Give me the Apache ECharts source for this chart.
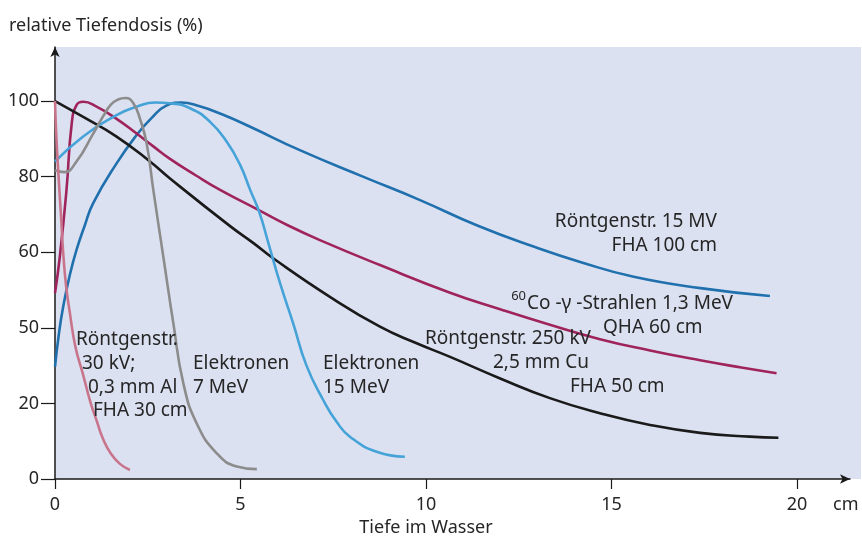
<!DOCTYPE html>
<html>
<head>
<meta charset="utf-8">
<script src="https://cdn.jsdelivr.net/npm/echarts@6/dist/echarts.min.js"></script>
<style>
  html, body { margin: 0; padding: 0; background: #fff; }
  #chart { width: 862px; height: 543px; }
</style>
</head>
<body>
<div id="chart"></div>
<script>
// depth in cm, relative depth dose in %
var xTickValues = [0, 5, 10, 15, 20];
var yTickValues = [0, 20, 40, 60, 80, 100];
var yTickLabels = ['0', '20', '50', '60', '80', '100'];

var pink30kV = [[0,100],[0.03,92],[0.09,81],[0.16,70],[0.22,60],[0.3,51],[0.4,44],[0.55,35],[0.76,27.5],[0.95,20.5],[1.12,15.5],[1.3,10.5],[1.5,6.8],[1.75,4],[2.02,2.4]];
var grey7MeV = [[0,81.7],[0.25,81.2],[0.58,84],[1.03,91.4],[1.3,96],[1.5,99],[1.7,100.4],[1.9,100.8],[2.1,99.6],[2.3,95],[2.47,88.8],[2.65,76.5],[2.92,58.8],[3.19,41.2],[3.46,25.3],[3.82,14.7],[4.36,6.8],[4.9,3.3],[5.44,2.6]];
var lightBlue15MeV = [[0,84],[0.76,90.6],[1.66,96.3],[2.2,98.5],[2.7,99.6],[3.1,99.4],[3.64,98.1],[4.18,94.5],[4.63,89.2],[4.99,83.1],[5.26,76.5],[5.5,70.8],[5.75,62.5],[6.06,52],[6.42,41.2],[6.78,30],[7.23,20.9],[7.6,15],[7.95,11.2],[8.67,7.2],[9.43,5.9]];
var magentaCo = [[0,49.2],[0.13,58.8],[0.31,76.5],[0.45,94],[0.58,98.9],[0.76,99.8],[1.12,98.5],[1.66,95.3],[2.2,91.4],[2.65,88],[3.1,84.7],[3.8,80.3],[4.45,76.5],[5.48,71.2],[6.3,67],[7.14,63.2],[8.76,56.6],[10.65,49.3],[12,44.9],[13.34,40.8],[14.69,37],[16.04,34],[17.39,31.4],[18.5,29.5],[19.45,28]];
var blue15MV = [[0,29.7],[0.1,38],[0.22,45.6],[0.4,54],[0.58,60.6],[0.8,67],[1.03,73],[1.66,83.5],[2.2,91],[2.6,95.5],[3.0,98.8],[3.4,99.6],[3.9,98.6],[4.5,96.5],[5.26,93.2],[6.6,87],[8.3,80],[9.84,73.8],[11.4,67],[12.9,61.5],[14.2,57.3],[15.6,53.5],[17.4,50.5],[19.27,48.4]];
var black250kV = [[0,100],[0.76,95.8],[1.66,90.6],[2.56,84],[3.1,79.5],[4.72,66.9],[5.35,62.4],[5.88,58.4],[7.41,48.2],[8.76,40.3],[9.7,36.1],[10.65,32.3],[12,26.6],[13.34,21.4],[14.69,17.4],[16.04,14.3],[17.39,12.2],[18.73,11.2],[19.5,10.9]];

var font = '"Noto Sans", sans-serif';
var textColor = '#262626';

// annotation text: [text, x, y, align, size]
var notes = [
  ['relative Tiefendosis (%)', 9, 26, 'left', 18],
  ['cm', 833, 505, 'left', 18],
  ['Tiefe im Wasser', 426, 528, 'center', 18],
  ['Röntgenstr. 15 MV', 717, 222, 'right', 19],
  ['FHA 100 cm', 717, 246, 'right', 19],
  ['60', 526, 296, 'right', 13],
  ['Co -γ -Strahlen 1,3 MeV', 527, 304, 'left', 19],
  ['QHA 60 cm', 603, 328, 'left', 19],
  ['Röntgenstr. 250 kV', 425, 339, 'left', 19],
  ['2,5 mm Cu', 493, 363, 'left', 19],
  ['FHA 50 cm', 570, 387, 'left', 19],
  ['Röntgenstr.', 76, 340, 'left', 19],
  ['30 kV;', 82, 364, 'left', 19],
  ['0,3 mm Al', 88, 388, 'left', 19],
  ['FHA 30 cm', 93, 411, 'left', 19],
  ['Elektronen', 193, 364, 'left', 19],
  ['7 MeV', 193, 388, 'left', 19],
  ['Elektronen', 323, 364, 'left', 19],
  ['15 MeV', 323, 388, 'left', 19]
];

function curve(name, data, color, z) {
  return {
    name: name,
    type: 'line',
    data: data,
    smooth: 0.5,
    showSymbol: false,
    z: z,
    lineStyle: { color: color, width: 2.6 }
  };
}

var graphics = [{
  type: 'rect',
  left: 55, top: 47, z: -10,
  shape: { width: 806, height: 432 },
  style: { fill: '#dce1f2' }
}];
notes.forEach(function (n) {
  graphics.push({
    type: 'text',
    x: n[1], y: n[2], z: 10,
    style: {
      text: n[0], fill: textColor, font: n[4] + 'px ' + font,
      align: n[3], verticalAlign: 'middle'
    }
  });
});

var chart = echarts.init(document.getElementById('chart'));
chart.setOption({
  animation: false,
  backgroundColor: '#fff',
  grid: { left: 55, right: 12, top: 47, bottom: 64 },
  graphic: graphics,
  xAxis: {
    type: 'value', min: 0, max: 21.43,
    axisLine: { onZero: false, symbol: ['none', 'arrow'], symbolSize: [7, 10], lineStyle: { color: '#1a1a1a', width: 1.5 } },
    axisTick: { show: true, length: 10, customValues: xTickValues, lineStyle: { color: '#1a1a1a', width: 1.2 } },
    axisLabel: { customValues: xTickValues, margin: 17, color: textColor, fontSize: 18, fontFamily: font },
    splitLine: { show: false }
  },
  yAxis: {
    type: 'value', min: 0, max: 114.3,
    axisLine: { show: true, onZero: false, symbol: ['none', 'arrow'], symbolSize: [7, 10], lineStyle: { color: '#1a1a1a', width: 1.5 } },
    axisTick: { show: true, length: 14, customValues: yTickValues, lineStyle: { color: '#1a1a1a', width: 1.2 } },
    axisLabel: {
      customValues: yTickValues, margin: 16, color: textColor, fontSize: 18, fontFamily: font,
      formatter: function (v) { return yTickLabels[yTickValues.indexOf(v)]; }
    },
    splitLine: { show: false }
  },
  series: [
    curve('Röntgenstr. 15 MV', blue15MV, '#1f70ad', 3),
    curve('60Co-γ-Strahlen', magentaCo, '#a0245c', 3),
    curve('Röntgenstr. 250 kV', black250kV, '#1a1a1a', 4),
    curve('Elektronen 15 MeV', lightBlue15MeV, '#45a3d8', 5),
    curve('Elektronen 7 MeV', grey7MeV, '#8c8c8c', 5),
    curve('Röntgenstr. 30 kV', pink30kV, '#c8758c', 6)
  ]
});
</script>
</body>
</html>
